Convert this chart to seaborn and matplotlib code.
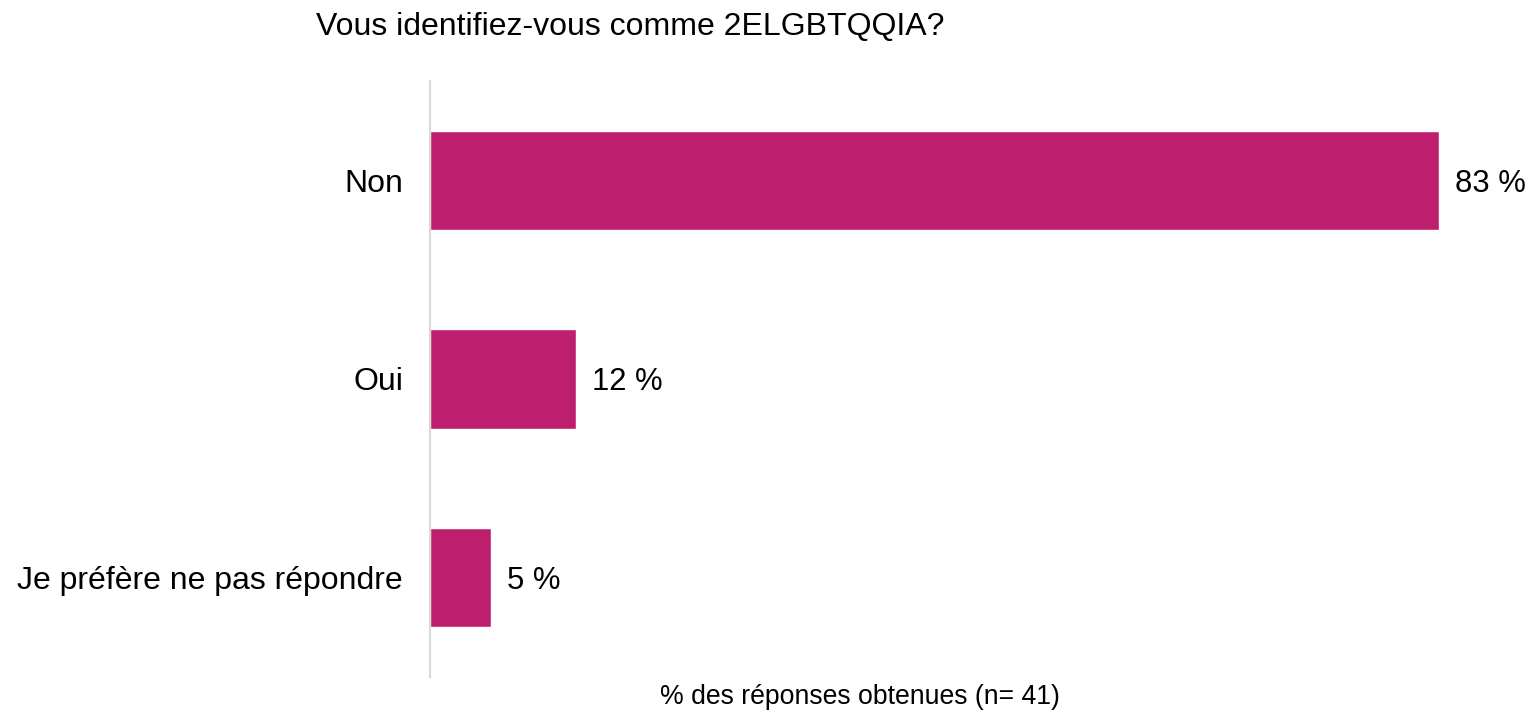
import matplotlib
matplotlib.use("Agg")
import matplotlib.pyplot as plt
import seaborn as sns
import pandas as pd

categories = ["Non", "Oui", "Je préfère ne pas répondre"]
percentages = [83, 12, 5]
title = "Vous identifiez-vous comme 2ELGBTQQIA?"
xlabel = "% des réponses obtenues (n= 41)"

BAR_COLOR = "#BE1E6E"

sns.set_theme(style="white")
plt.rcParams["font.family"] = ["Liberation Sans", "DejaVu Sans"]

df = pd.DataFrame({"reponse": categories, "pct": percentages})

fig = plt.figure(figsize=(15.35, 7.12), dpi=100)
W, H = 1535, 712
left, right, top, bottom = 430, 1524, 81, 677
ax = fig.add_axes([left / W, 1 - bottom / H, (right - left) / W, (bottom - top) / H])

sns.barplot(data=df, x="pct", y="reponse", order=categories, color=BAR_COLOR,
            saturation=1, width=0.5, ax=ax)

ax.set_xlim(0, 90)
ax.set_ylim(2.5, -0.5)

for i, v in enumerate(percentages):
    ax.text(v + 1.35, i, f"{v} %", va="center_baseline", ha="left",
            fontsize=22.3, color="black")

for s in ["top", "right", "bottom"]:
    ax.spines[s].set_visible(False)
ax.spines["left"].set_color("#d9d9d9")
ax.spines["left"].set_linewidth(1.5)

ax.set_xticks([])
ax.set_ylabel("")
ax.set_xlabel("")
ax.tick_params(axis="y", length=0, pad=19.5, labelsize=23, labelcolor="black")

fig.text(630 / W, 1 - 27 / H, title, ha="center", va="center", fontsize=23, color="black")
fig.text(860 / W, 1 - 697 / H, xlabel, ha="center", va="center", fontsize=19.2, color="black")

fig.savefig("out.png", dpi=100)
